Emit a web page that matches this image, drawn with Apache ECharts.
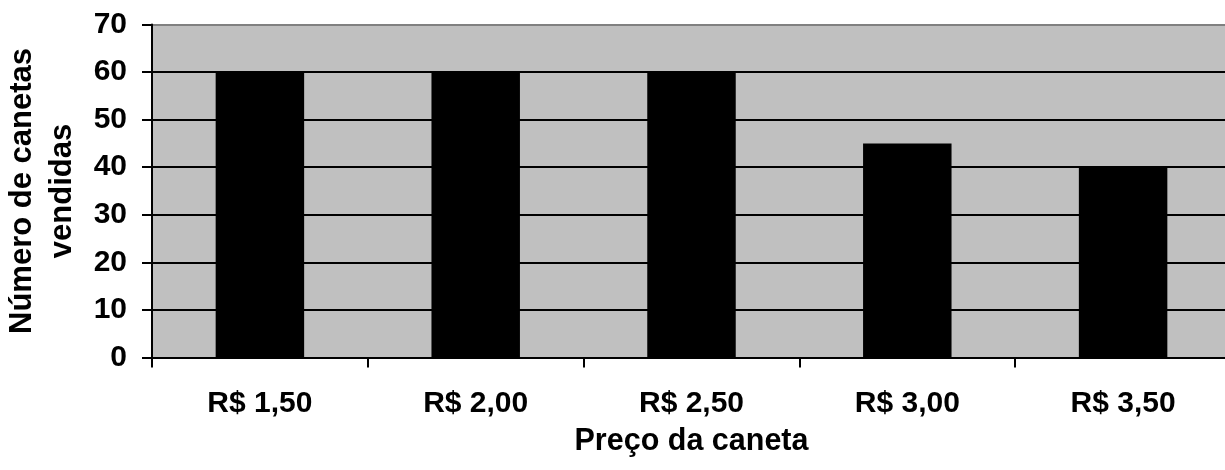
<!DOCTYPE html>
<html>
<head>
<meta charset="utf-8">
<script src="https://cdn.jsdelivr.net/npm/echarts@6/dist/echarts.min.js"></script>
<style>
html,body{margin:0;padding:0;background:#fff;}
#c{width:1225px;height:470px;}
</style>
</head>
<body>
<div id="c"></div>
<script>
const categories = ['R$ 1,50', 'R$ 2,00', 'R$ 2,50', 'R$ 3,00', 'R$ 3,50'];
const values = [60, 60, 60, 45, 40];
const yTicks = [0, 10, 20, 30, 40, 50, 60, 70];

const FONT = "'Liberation Sans', Arial, sans-serif";
const chart = echarts.init(document.getElementById('c'), null, {renderer: 'canvas'});
chart.setOption({
  animation: false,
  backgroundColor: '#ffffff',
  grid: {
    left: 152, top: 24.5, width: 1079, height: 333,
    show: true, backgroundColor: '#c0c0c0', borderWidth: 0,
    containLabel: false, outerBoundsMode: 'none'
  },
  xAxis: {
    type: 'category',
    data: categories,
    name: 'Preço da caneta',
    nameLocation: 'middle',
    nameGap: 69,
    nameTextStyle: {fontFamily: FONT, fontWeight: 'bold', fontSize: 30.5, color: '#000'},
    axisLine: {show: true, lineStyle: {color: '#000', width: 2}},
    axisTick: {show: true, length: 10, lineStyle: {color: '#000', width: 2}},
    axisLabel: {fontFamily: FONT, fontWeight: 'bold', fontSize: 30, color: '#000', margin: 31},
    splitLine: {show: false}
  },
  yAxis: {
    type: 'value',
    min: yTicks[0], max: yTicks[yTicks.length - 1], interval: 10,
    name: 'Número de canetas\nvendidas',
    nameLocation: 'middle',
    nameGap: 69,
    nameTextStyle: {fontFamily: FONT, fontWeight: 'bold', fontSize: 31, color: '#000', lineHeight: 40},
    axisLine: {show: true, lineStyle: {color: '#000', width: 2}},
    axisTick: {show: true, length: 10, lineStyle: {color: '#000', width: 2}},
    axisLabel: {fontFamily: FONT, fontWeight: 'bold', fontSize: 30, color: '#000', margin: 25},
    splitLine: {show: true, lineStyle: {color: ['#000','#000','#000','#000','#000','#000','#000','#808080'], width: 2}}
  },
  series: [{
    type: 'bar',
    data: values,
    barWidth: '41%',
    itemStyle: {color: '#000'}
  }]
});
</script>
</body>
</html>
